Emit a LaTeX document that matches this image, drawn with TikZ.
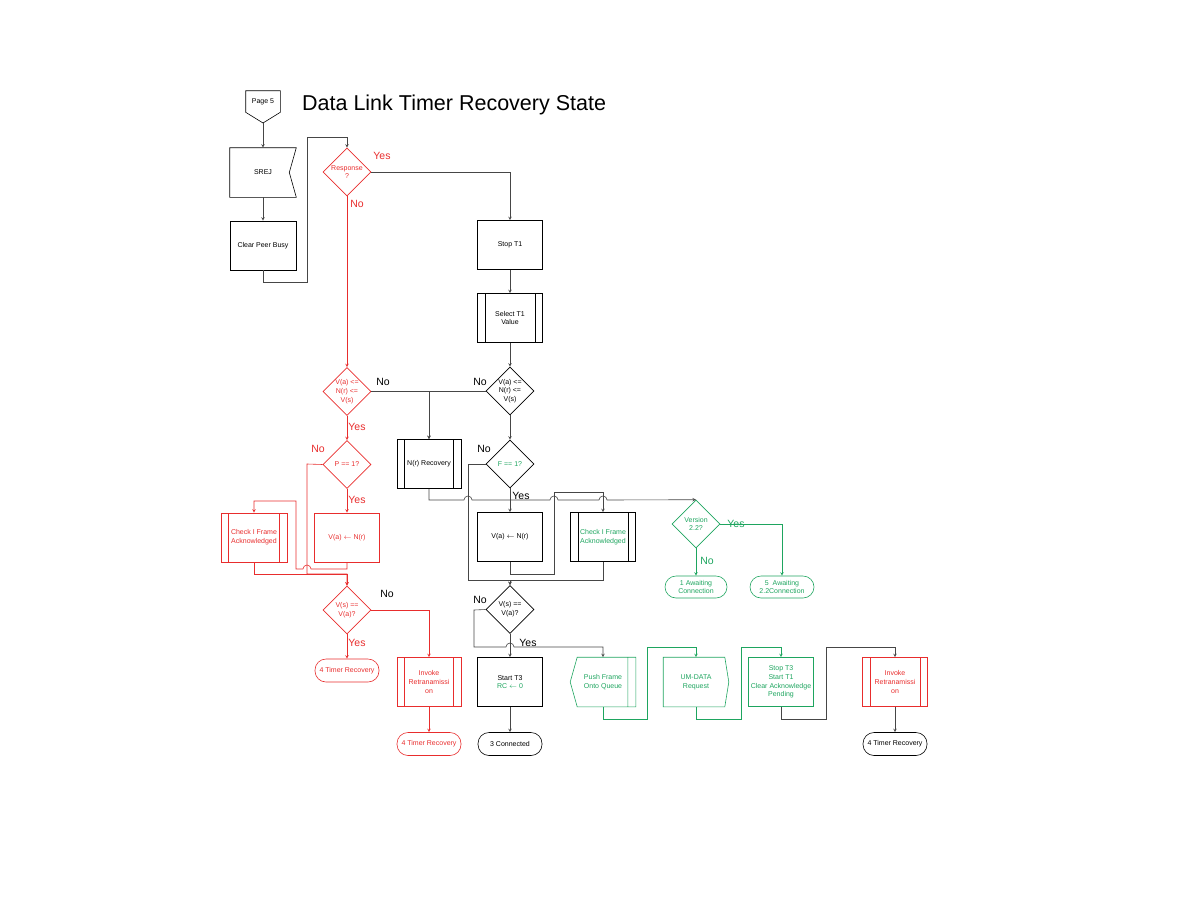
\documentclass[tikz,border=0pt]{standalone}
\usepackage{fontspec}
\setmainfont{Liberation Sans}
\usetikzlibrary{positioning, shapes.geometric, arrows}
\definecolor{flowred}{RGB}{232,45,45}
\definecolor{flowgreen}{RGB}{30,165,95}
\definecolor{flowgray}{RGB}{70,70,70}
\tikzset{
    >=stealth, % small solid arrow heads
    node distance=73pt, % row spacing of the chart
    every node/.style={font=\fontsize{7}{8.7}\selectfont, align=center}, % small text everywhere
    proc/.style={draw, rectangle, minimum width=65pt, minimum height=49pt, inner sep=1pt}, % process box
    predef/.style={proc, path picture={
        \draw[#1, line width=0.6pt] ([xshift=7.5pt]path picture bounding box.north west) -- ([xshift=7.5pt]path picture bounding box.south west)
            ([xshift=-7.5pt]path picture bounding box.north east) -- ([xshift=-7.5pt]path picture bounding box.south east);}}, % box with side bars
    predef/.default=black,
    decision/.style={draw, diamond, aspect=1, inner sep=0pt, minimum width=48pt, minimum height=48pt}, % question
    terminal/.style={draw, rectangle, rounded corners=11pt, minimum width=64pt, minimum height=23pt, inner sep=1pt}, % end state
    lbl/.style={font=\fontsize{10.5}{12}\selectfont, inner sep=0pt}, % Yes / No
    conn/.style={->, draw=flowgray}, % black flow
    connR/.style={->, draw=flowred}, % red flow
    connG/.style={->, draw=flowgreen}, % green flow
}
\begin{document}
\begin{tikzpicture}[x=1pt, y=-1pt, line width=0.6pt]
\useasboundingbox (0,0) rectangle (1188,918);
\node[font=\fontsize{21.5}{24}\selectfont, anchor=west] (title) at (298.5,105) {Data Link Timer Recovery State};

\coordinate (pagetip) at (263,123);
\node[minimum width=34pt, minimum height=21pt, inner sep=0pt] (page) at (263,101.5) {Page 5};
\draw (page.north west) -- (page.north east) -- (page.south east) -- (pagetip) -- (page.south west) -- cycle;
\node[proc, draw=none, minimum width=66pt] (srej) at (263,172.5) {SREJ};
\draw (srej.north west) -- (srej.north east) -- ([xshift=-7pt]srej.east) -- (srej.south east) -- (srej.south west) -- cycle;
\node[proc, minimum width=66pt, below of=srej] (cpb) {Clear Peer Busy};

\node[decision, draw=flowred, text=flowred] (resp) at (347,172) {Response\\?};
\node[decision, draw=flowred, text=flowred] (vr1) at (347,391.5) {V(a) \textless=\\N(r) \textless=\\V(s)};
\node[decision, draw=flowred, text=flowred, below of=vr1] (pchk) {P == 1?};
\node[proc, draw=flowred, text=flowred, below of=pchk] (vaR) {V(a) $\leftarrow$ N(r)};
\node[predef=flowred, draw=flowred, text=flowred, minimum width=66pt, node distance=93pt, left of=vaR] (chkR) {Check I Frame\\Acknowledged};
\node[decision, draw=flowred, text=flowred, node distance=72.5pt, below of=vaR] (vsR) {V(s) ==\\V(a)?};
\node[terminal, draw=flowred, text=flowred, node distance=60.5pt, below of=vsR] (trR1) {4 Timer Recovery};

\node[proc] (stop) at (510,245) {Stop T1};
\node[predef, below of=stop] (sel) {Select T1\\Value};
\node[decision, below of=sel] (vr2) {V(a) \textless=\\N(r) \textless=\\V(s)};
\node[decision, text=flowgreen, below of=vr2] (fchk) {F == 1?};
\node[proc, below of=fchk] (vaB) {V(a) $\leftarrow$ N(r)};
\node[decision, node distance=72.5pt, below of=vaB] (vsB) {V(s) ==\\V(a)?};
\node[proc, node distance=72.5pt, below of=vsB] (start) {Start T3\\\textcolor{flowgreen}{RC $\leftarrow$ 0}};
\node[terminal, node distance=62pt, below of=start] (conn) {3 Connected};

\node[predef, minimum width=64pt, node distance=81pt, left of=fchk] (nrr) {N(r) Recovery};
\node[predef, text=flowgreen, node distance=93pt, right of=vaB] (chkG) {Check I Frame\\Acknowledged};
\node[decision, draw=flowgreen, text=flowgreen] (ver) at (696,524) {Version\\2.2?};
\node[terminal, draw=flowgreen, text=flowgreen, minimum width=62pt, minimum height=22pt] (aw1) at (696,587) {1 Awaiting\\Connection};
\node[terminal, draw=flowgreen, text=flowgreen, minimum width=64pt, minimum height=22pt] (aw5) at (782,587) {5\ \ Awaiting\\2.2Connection};

\node[predef=flowred, draw=flowred, text=flowred, minimum width=64pt, node distance=81pt, left of=start] (invR) {Invoke\\Retranamissi\\on};
\node[terminal, draw=flowred, text=flowred, node distance=62pt, below of=invR] (trR2) {4 Timer Recovery};
\node[proc, draw=none, text=flowgreen, node distance=93pt, right of=start] (push) {Push Frame\\Onto Queue};
\draw[flowgreen] ([xshift=7pt]push.north west) -- (push.north east) -- (push.south east) -- ([xshift=7pt]push.south west) -- (push.west) -- cycle
    ([xshift=-8pt]push.north east) -- ([xshift=-8pt]push.south east);
\node[proc, draw=none, text=flowgreen, node distance=93pt, right of=push] (um) {UM-DATA\\Request};
\draw[flowgreen] (um.north west) -- ([xshift=-4pt]um.north east) -- (um.east) -- ([xshift=-4pt]um.south east) -- (um.south west) -- cycle;
\node[proc, draw=flowgreen, text=flowgreen, node distance=85pt, right of=um] (stopt3) {Stop T3\\Start T1\\Clear Acknowledge\\Pending};
\node[predef=flowred, draw=flowred, text=flowred, node distance=114pt, right of=stopt3] (invB) {Invoke\\Retranamissi\\on};
\node[terminal, node distance=62pt, below of=invB] (trB) {4 Timer Recovery};

\coordinate (mergeR) at (347,574);
\coordinate (mergeB) at (510,580);

\draw[conn] (pagetip) -- (srej.north);
\draw[conn] (srej.south) -- (cpb.north);
\draw[conn] (cpb.south) -- (263,282) -- (307,282) -- (307,137) -| (resp.north);
\draw[conn] (resp.east) -| (stop.north);
\draw[connR] (resp.south) -- (vr1.north);
\draw[conn] (vr1.east) -| (nrr.north);
\draw[conn] (vr2.west) -| (nrr.north);
\draw[conn] (stop) -- (sel);
\draw[conn] (sel) -- (vr2);
\draw[conn] (vr2) -- (fchk);
\draw[conn] (fchk) -- (vaB);
\draw[conn] (fchk.west) -- (468,464) -- (468,580) -- (mergeB) -- (vsB.north);
\draw[conn] (vaB.south) -- (510,574) -- (554,574) -- (554,492) -| (chkG.north);
\draw[conn] (chkG.south) |- (mergeB) -- (vsB.north);
\draw[conn] (nrr.south) -- (429,500) -- (464,500) arc[start angle=180, end angle=0, radius=4pt]
    -- (550,500) arc[start angle=180, end angle=0, radius=4pt]
    -- (599,500) arc[start angle=180, end angle=0, radius=4pt] -- (ver.north);
\draw[connG] (ver.south) -- (aw1.north);
\draw[connG] (ver.east) -| (aw5.north);
\draw[conn] (vsB) -- (start);
\draw[conn] (start) -- (conn);
\draw[conn] (vsB.west) -- (474,610) -- (474,647) -- (506,647) arc[start angle=180, end angle=0, radius=4pt] -| (push.north);
\draw[connG] (push.south) -- (603,719) -- (647,719) -- (647,647) -| (um.north);
\draw[connG] (um.south) -- (696,719) -- (741,719) -- (741,647) -| (stopt3.north);
\draw[conn] (stopt3.south) -- (781,719) -- (826,719) -- (826,647) -| (invB.north);
\draw[conn] (invB) -- (trB);

\draw[connR] (vr1) -- (pchk);
\draw[connR] (pchk) -- (vaR);
\draw[connR] (vaR.south) -- (347,569) -- (311,569) arc[start angle=0, end angle=180, radius=4pt] -- (296,569) -- (296,501) -| (chkR.north);
\draw[connR] (pchk.west) -- (307,464) -- (307,574) -- (mergeR) -- (vsR.north);
\draw[connR] (chkR.south) |- (mergeR) -- (vsR.north);
\draw[connR] (vsR.east) -| (invR.north);
\draw[connR] (vsR) -- (trR1);
\draw[connR] (invR) -- (trR2);

\node[lbl, text=flowred] (l1) at (382,156) {Yes};
\node[lbl, text=flowred] (l2) at (357,204) {No};
\node[lbl] (l3) at (383,382) {No};
\node[lbl] (l4) at (480,382) {No};
\node[lbl, text=flowred] (l5) at (357,427) {Yes};
\node[lbl, text=flowred] (l6) at (318,449) {No};
\node[lbl, text=flowred] (l7) at (357,500) {Yes};
\node[lbl] (l8) at (484,449) {No};
\node[lbl] (l9) at (521,496) {Yes};
\node[lbl, text=flowgreen] (l10) at (736,524) {Yes};
\node[lbl, text=flowgreen] (l11) at (707,561) {No};
\node[lbl] (l12) at (387,594) {No};
\node[lbl, text=flowred] (l13) at (357,643) {Yes};
\node[lbl] (l14) at (480,600) {No};
\node[lbl] (l15) at (528,643) {Yes};
\end{tikzpicture}
\end{document}
